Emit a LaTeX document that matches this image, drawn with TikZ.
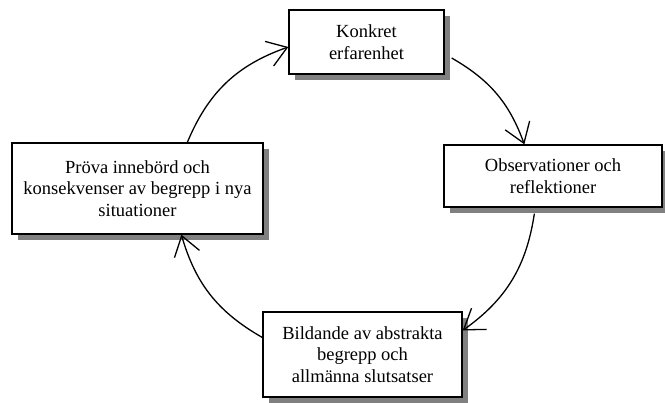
\documentclass[tikz,border=0pt]{standalone}
\usepackage{fontspec}
\setmainfont{Liberation Serif}
\usetikzlibrary{arrows.meta,calc,shadows}
\begin{document}
\begin{tikzpicture}[x=1pt,y=-1pt,
  box/.style={draw=black, line width=1.3pt, fill=white, align=center, inner sep=2pt,
    font=\fontsize{18.5}{21.5}\selectfont,
    drop shadow={shadow xshift=6pt, shadow yshift=-6pt, fill=black!50, opacity=1}},
  arr/.style={line width=1.3pt, -{Straight Barb[length=19pt,width=26pt]}}]
\useasboundingbox (0,0) rectangle (665,403);
\node[box, minimum width=155pt, minimum height=64pt] (konkret) at (366.5,42) {Konkret\\erfarenhet};
\node[box, minimum width=218pt, minimum height=62pt] (obs) at (553,176) {Observationer och\\reflektioner};
\node[box, minimum width=251pt, minimum height=91pt] (prova) at (137.5,188.5) {Pröva innebörd och\\konsekvenser av begrepp i nya\\situationer};
\node[box, minimum width=199pt, minimum height=85pt] (bild) at (362.5,354.5) {Bildande av abstrakta\\begrepp och\\allmänna slutsatser};
\draw[arr] ($(prova.north west)+(176,0)$) to[bend left=24] ($(konkret.west)+(0,5)$);
\draw[arr] ($(konkret.east)+(7,16)$) to[bend left=20] ($(obs.north west)+(81,0)$);
\draw[arr] ($(obs.south west)+(91,6)$) to[bend left=23] ($(bild.east)+(0,-24)$);
\draw[arr] ($(bild.west)+(0,-17)$) to[bend left=22] ($(prova.south west)+(170,0)$);
\end{tikzpicture}
\end{document}
